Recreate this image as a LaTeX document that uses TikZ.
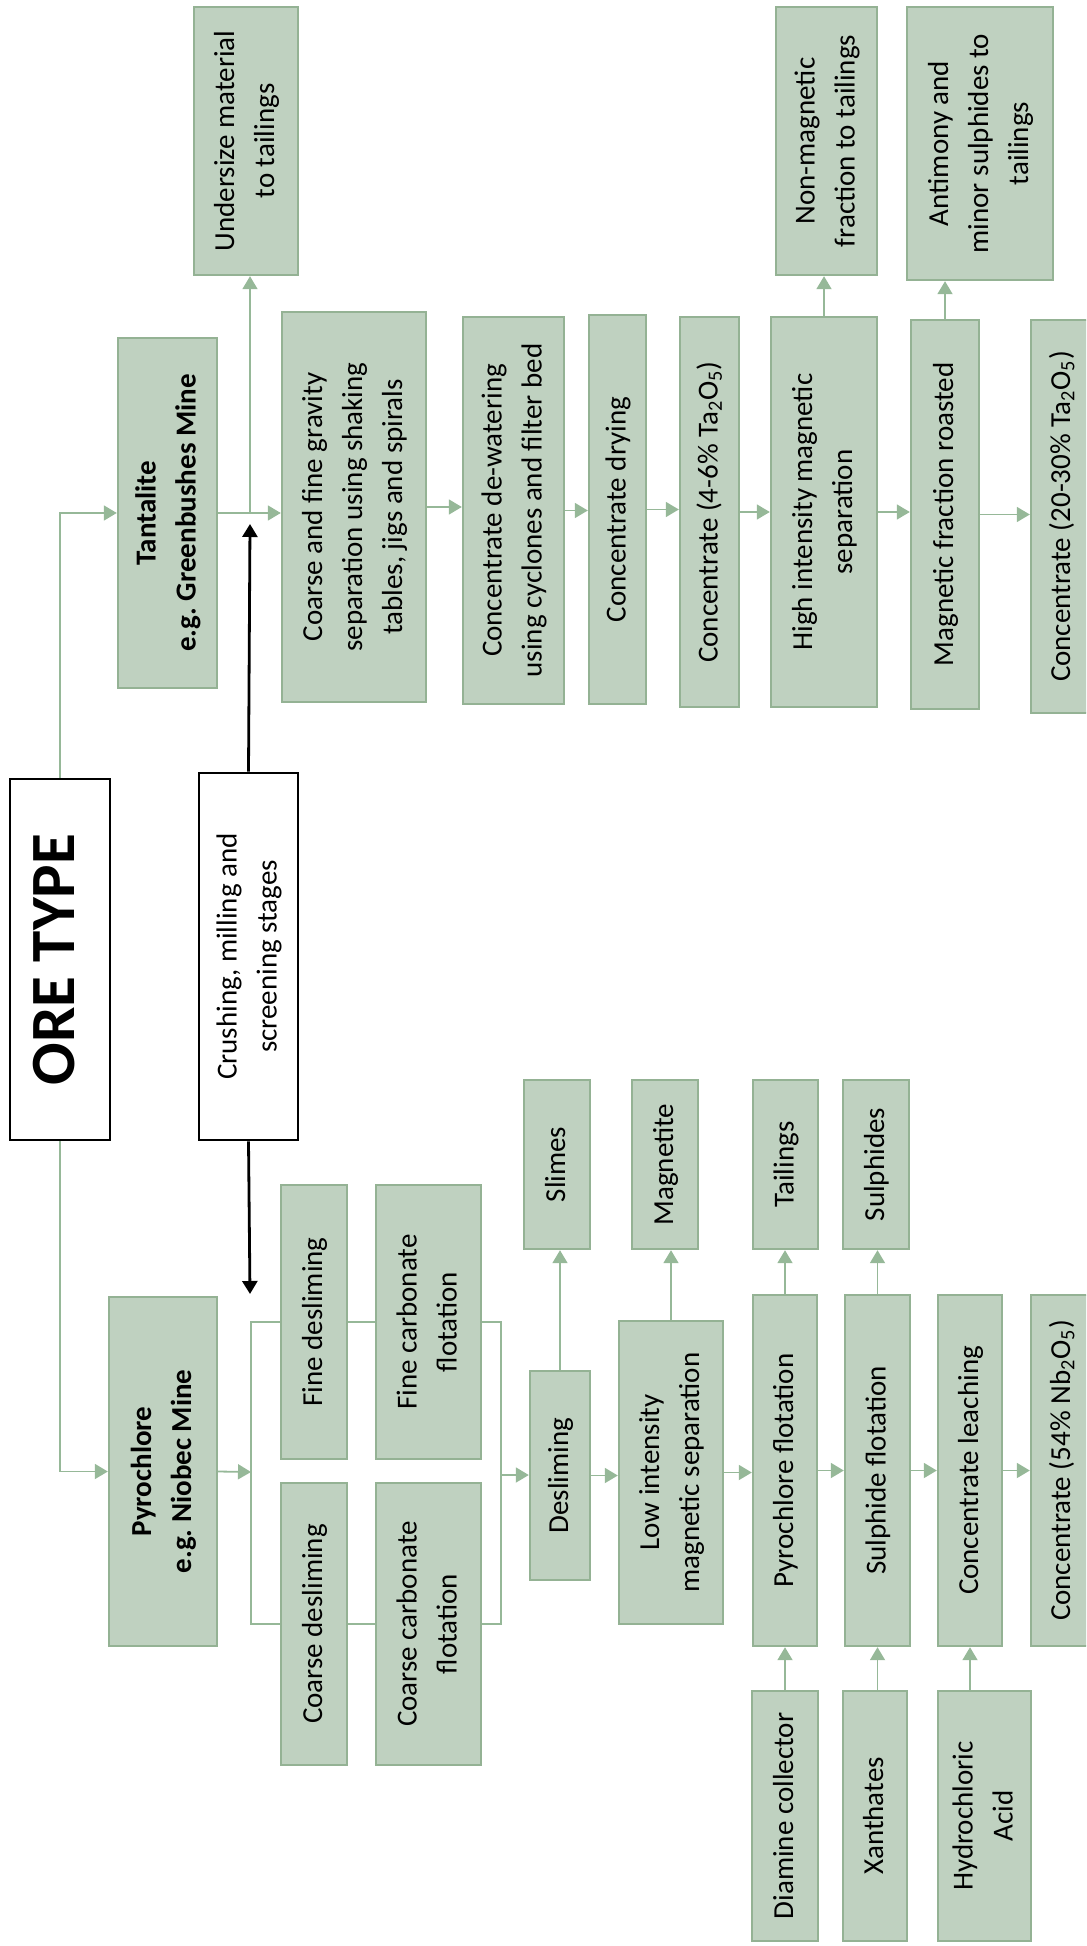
\documentclass[tikz,border=0pt]{standalone}
\usepackage{fontspec}
\setmainfont{Carlito}
\usepackage{graphicx}
\usetikzlibrary{arrows.meta,calc}
\definecolor{boxfill}{RGB}{191,209,192}
\definecolor{boxline}{RGB}{148,178,148}
\definecolor{lineG}{RGB}{150,184,152}
% #1 style, #2 name, #3 x1, #4 y1, #5 x2, #6 y2, #7 text (pixel coordinates)
\newcommand{\mkbox}[7][gbox]{%
  \node[#1, minimum width={(#5-#3)*0.5pt}, minimum height={(#6-#4)*0.5pt}] (#2) at ({(#3+#5)/2},{(#4+#6)/2})
    {\rotatebox{90}{\begin{tabular}{@{}c@{}}#7\end{tabular}}};}
\begin{document}
\begin{tikzpicture}[x=0.5pt,y=-0.5pt,
  gbox/.style={draw=boxline, fill=boxfill, line width=1.2pt, inner sep=0pt, font=\fontsize{14.5}{20}\selectfont},
  kbox/.style={draw=black, fill=white, line width=1.4pt, inner sep=0pt, font=\fontsize{14.5}{20}\selectfont},
  orebox/.style={kbox, font=\fontsize{31.5}{36}\selectfont\bfseries},
  gl/.style={draw=lineG, line width=0.9pt},
  garrow/.style={gl, -{Triangle[length=6.5pt,width=7.5pt]}},
  karrow/.style={draw=black, line width=1.4pt, -{Triangle[length=6.5pt,width=7.5pt]}}]
\path[use as bounding box] (0,0) rectangle (1086,1946);
\clip (0,0) rectangle (1086,1946);

% black boxes
\mkbox[orebox]{ore}{10}{779}{110}{1140}{ORE TYPE}
\mkbox[kbox]{crush}{199}{773}{298}{1140}{Crushing, milling and\\screening stages}

% tantalite branch
\mkbox{tant}{118}{338}{217}{688}{\textbf{Tantalite}\\\textbf{e.g.\ Greenbushes Mine}}
\mkbox{under}{194}{7}{298}{275}{Undersize material\\to tailings}
\mkbox{grav}{282}{312}{426}{702}{Coarse and fine gravity\\separation using shaking\\tables, jigs and spirals}
\mkbox{dewat}{463}{317}{564}{704}{Concentrate de-watering\\using cyclones and filter bed}
\mkbox{dry}{589}{315}{646}{704}{Concentrate drying}
\mkbox{cA}{680}{317}{739}{707}{Concentrate (4-6\% Ta\textsubscript{2}O\textsubscript{5})}
\mkbox{hims}{771}{317}{877}{707}{High intensity magnetic\\separation}
\mkbox{nonmag}{776}{7}{877}{275}{Non-magnetic\\fraction to tailings}
\mkbox{roast}{911}{320}{979}{709}{Magnetic fraction roasted}
\mkbox{antim}{907}{7}{1053}{280}{Antimony and\\minor sulphides to\\tailings}
\mkbox{cB}{1031}{320}{1093}{713}{Concentrate (20-30\% Ta\textsubscript{2}O\textsubscript{5})}

% pyrochlore branch
\mkbox{pyro}{109}{1297}{217}{1646}{\textbf{Pyrochlore}\\\textbf{e.g.\ Niobec Mine}}
\mkbox{fdes}{281}{1185}{347}{1459}{Fine desliming}
\mkbox{cdes}{281}{1483}{347}{1765}{Coarse desliming}
\mkbox{fcarb}{376}{1185}{481}{1459}{Fine carbonate\\flotation}
\mkbox{ccarb}{376}{1483}{481}{1765}{Coarse carbonate\\flotation}
\mkbox{desl}{530}{1371}{590}{1580}{Desliming}
\mkbox{slimes}{524}{1080}{590}{1249}{Slimes}
\mkbox{lims}{619}{1321}{723}{1624}{Low intensity\\magnetic separation}
\mkbox{magn}{632}{1080}{698}{1249}{Magnetite}
\mkbox{pflot}{753}{1295}{817}{1646}{Pyrochlore flotation}
\mkbox{tail}{753}{1080}{818}{1249}{Tailings}
\mkbox{sflot}{845}{1295}{910}{1646}{Sulphide flotation}
\mkbox{sulph}{843}{1080}{909}{1249}{Sulphides}
\mkbox{leach}{938}{1295}{1002}{1646}{Concentrate leaching}
\mkbox{cC}{1031}{1295}{1093}{1646}{Concentrate (54\% Nb\textsubscript{2}O\textsubscript{5})}
\mkbox{diam}{752}{1691}{818}{1941}{Diamine collector}
\mkbox{xanth}{843}{1691}{907}{1941}{Xanthates}
\mkbox{hcl}{938}{1691}{1031}{1941}{Hydrochloric\\Acid}

% junction coordinates
\coordinate (jt) at (250,513);
\coordinate (ttip) at (250,524);
\coordinate (jp) at (251,1472);
\coordinate (ptip) at (250,1294);
\coordinate (jr) at (501,1475);

% tantalite connectors
\draw[garrow] (ore.north) |- (tant.west);
\draw[garrow] (tant.east) -- (tant.east -| grav.west);
\draw[garrow] (jt) -- (jt |- under.south);
\draw[karrow] (crush.north) -- (ttip);
\draw[garrow] (grav.east) -- (grav.east -| dewat.west);
\draw[garrow] (dewat.east) -- (dewat.east -| dry.west);
\draw[garrow] (dry.east) -- (dry.east -| cA.west);
\draw[garrow] (cA.east) -- (cA.east -| hims.west);
\draw[garrow] (hims.east) -- (hims.east -| roast.west);
\draw[garrow] (roast.east) -- (roast.east -| cB.west);
\draw[garrow] (hims.north) -- (hims.north |- nonmag.south);
\draw[garrow] (roast.north) -- (roast.north |- antim.south);

% pyrochlore connectors
\draw[garrow] (ore.south) |- (pyro.west);
\draw[karrow] (crush.south) -- (ptip);
\draw[garrow] (pyro.east) -- (jp);
\draw[gl] (fdes.west) -| (jp) |- (cdes.west);
\draw[gl] (fdes.east) -- (fdes.east -| fcarb.west);
\draw[gl] (cdes.east) -- (cdes.east -| ccarb.west);
\draw[gl] (fcarb.east) -| (jr) |- (ccarb.east);
\draw[garrow] (jr) -- (jr -| desl.west);
\draw[garrow] (desl.north) -- (desl.north |- slimes.south);
\draw[garrow] (desl.east) -- (desl.east -| lims.west);
\draw[garrow] (lims.north) -- (lims.north |- magn.south);
\draw[garrow] (lims.east) -- (lims.east -| pflot.west);
\draw[garrow] (pflot.north) -- (pflot.north |- tail.south);
\draw[garrow] (pflot.east) -- (pflot.east -| sflot.west);
\draw[garrow] (sflot.north) -- (sflot.north |- sulph.south);
\draw[garrow] (sflot.east) -- (sflot.east -| leach.west);
\draw[garrow] (leach.east) -- (leach.east -| cC.west);
\draw[garrow] (diam.north -| pflot.south) -- (pflot.south);
\draw[garrow] (xanth.north -| sflot.south) -- (sflot.south);
\draw[garrow] (hcl.north -| leach.south) -- (leach.south);
\end{tikzpicture}
\end{document}
